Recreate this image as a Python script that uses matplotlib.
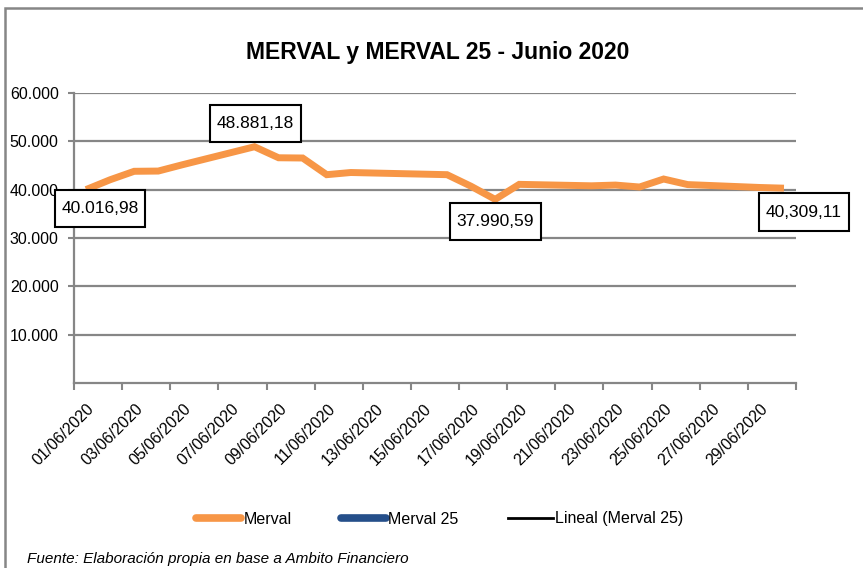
import datetime as dt
import numpy as np
import matplotlib
matplotlib.use("Agg")
import matplotlib.pyplot as plt
import matplotlib.dates as mdates
import matplotlib.ticker as mticker
from matplotlib.lines import Line2D
from matplotlib.patches import Rectangle
from matplotlib.transforms import ScaledTranslation

plt.rcParams['font.family'] = ['Liberation Sans', 'DejaVu Sans']

# ---- data ----
dias = [1, 2, 3, 4, 5, 8, 9, 10, 11, 12, 16, 17, 18, 19, 22, 23, 24, 25, 26, 29, 30]
merval = [40016.98, 42050, 43800, 43850, 45150, 48881.18, 46600, 46550, 43100, 43550,
          43100, 40700, 37990.59, 41100, 40800, 40950, 40550, 42200, 41050, 40450, 40309.11]
etiquetas = {1: "40.016,98", 8: "48.881,18", 18: "37.990,59", 30: "40,309,11"}
offsets = {1: (14, -19), 8: (1, 23), 18: (0, -22), 30: (20, -24)}

titulo = "MERVAL y MERVAL 25 - Junio 2020"
fuente = "Fuente: Elaboración propia en base a Ambito Financiero"
yticks = [10000, 20000, 30000, 40000, 50000, 60000]

NARANJA = "#F79646"
AZUL = "#254F8A"
GRIS = "#868686"

# Excel date axis, points sit in the middle of each day
fechas = [dt.datetime(2020, 6, d, 12) for d in dias]

fig = plt.figure(figsize=(8.63, 5.68), dpi=100)
W, H = 863, 568
ax = fig.add_axes([74 / W, 1 - 383 / H, (796 - 74) / W, (383 - 93) / H])

ax.plot(fechas, merval, color=NARANJA, lw=5, solid_joinstyle='miter',
        solid_capstyle='butt', zorder=3)

for d, txt in etiquetas.items():
    i = dias.index(d)
    ax.annotate(txt, xy=(fechas[i], merval[i]), xytext=offsets[d],
                textcoords='offset pixels', ha='center', va='center', fontsize=12.5,
                bbox=dict(boxstyle='square,pad=0.38', mutation_aspect=1.7,
                          fc='white', ec='black', lw=1.5),
                zorder=5)

ax.set_xlim(dt.datetime(2020, 6, 1), dt.datetime(2020, 7, 1))
ax.set_ylim(0, 60000)

xt = [dt.datetime(2020, 6, 1) + dt.timedelta(days=2 * k) for k in range(16)]
ax.xaxis.set_major_locator(mticker.FixedLocator(mdates.date2num(xt)))
ax.set_xticklabels([t.strftime("%d/%m/%Y") if t.month == 6 else "" for t in xt])
ax.yaxis.set_major_locator(mticker.FixedLocator(yticks))
ax.yaxis.set_major_formatter(mticker.FuncFormatter(lambda v, p: f"{int(v):,}".replace(",", ".")))

ax.tick_params(axis='x', length=5, width=1.5, color=GRIS, pad=12, labelsize=11.5, rotation=45)
ax.tick_params(axis='y', length=4, width=1.5, color=GRIS, pad=7, labelsize=11.5)
for lbl in ax.get_xticklabels():
    lbl.set_ha('right')
    lbl.set_va('center')
    lbl.set_rotation_mode('anchor')
    lbl.set_transform(lbl.get_transform() + ScaledTranslation(0.18, 0, fig.dpi_scale_trans))

ax.grid(axis='y', color=GRIS, lw=1.6)
ax.set_axisbelow(True)
for s in ['top', 'right']:
    ax.spines[s].set_visible(False)
for s in ['left', 'bottom']:
    ax.spines[s].set_color(GRIS)
    ax.spines[s].set_linewidth(1.6)

fig.text(0.507, 1 - 53 / H, titulo, ha='center', va='center', fontsize=16.5, fontweight='bold')

handles = [
    Line2D([], [], color=NARANJA, lw=5.5, solid_capstyle='round'),
    Line2D([], [], color=AZUL, lw=5.5, solid_capstyle='round'),
    Line2D([], [], color='black', lw=2),
]
fig.legend(handles, ["Merval", "Merval 25", "Lineal (Merval 25)"], loc='center',
           bbox_to_anchor=(440 / W, 1 - 519 / H), ncol=3, frameon=False, fontsize=11.5,
           handlelength=2.8, handletextpad=0.15, columnspacing=3.1)

fig.text(27 / W, 1 - 552 / H, fuente, ha='left', va='top', fontsize=11, style='italic')

# chart area border
fig.patches.append(Rectangle((5 / W, -0.1), 1.2, 1 - 8 / H + 0.1, transform=fig.transFigure,
                             fill=False, ec=GRIS, lw=1.8))

fig.savefig("out.png", dpi=100)
